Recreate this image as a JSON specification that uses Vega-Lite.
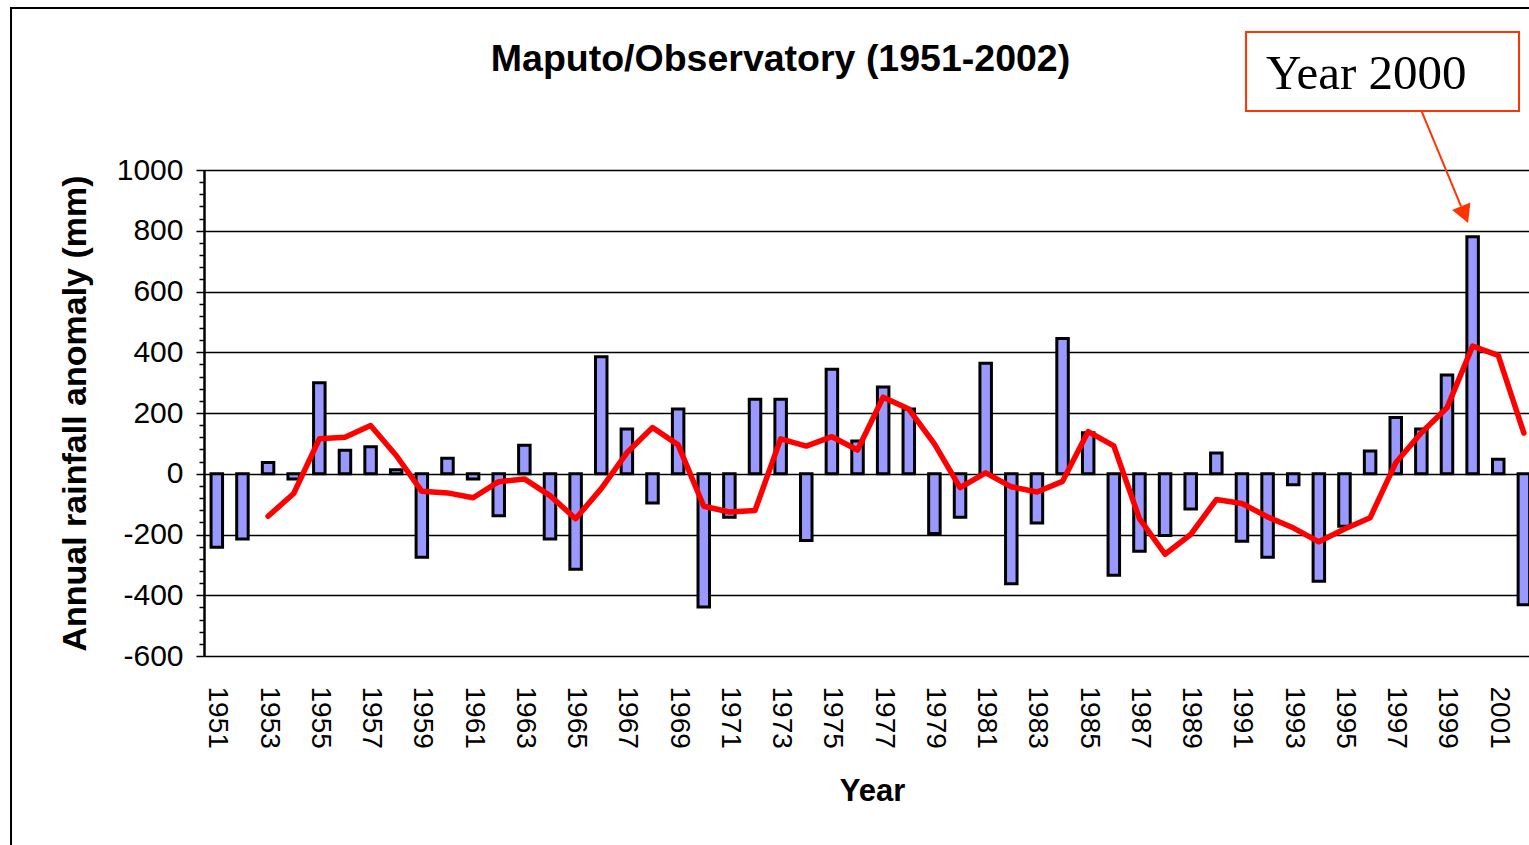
{
  "$schema": "https://vega.github.io/schema/vega-lite/v6.json",
  "width": 1325,
  "height": 486,
  "autosize": {"type": "none"},
  "padding": {"left": 204, "top": 170, "right": 0, "bottom": 189},
  "background": "white",
  "config": {"view": {"stroke": null}, "font": "Liberation Sans"},
  "title": {"text": "Maputo/Observatory (1951-2002)", "fontSize": 37.5, "fontWeight": "bold", "font": "Liberation Sans", "color": "black", "anchor": "middle", "frame": "group", "baseline": "alphabetic", "offset": -101, "dx": -86},
  "resolve": {"axis": {"x": "independent", "y": "independent"}},
  "datasets": {
    "bars": [
      {"year": 1951, "anomaly": -242}, {"year": 1952, "anomaly": -215}, {"year": 1953, "anomaly": 37}, {"year": 1954, "anomaly": -17},
      {"year": 1955, "anomaly": 300}, {"year": 1956, "anomaly": 77}, {"year": 1957, "anomaly": 89}, {"year": 1958, "anomaly": 13},
      {"year": 1959, "anomaly": -275}, {"year": 1960, "anomaly": 51}, {"year": 1961, "anomaly": -17}, {"year": 1962, "anomaly": -138},
      {"year": 1963, "anomaly": 94}, {"year": 1964, "anomaly": -215}, {"year": 1965, "anomaly": -314}, {"year": 1966, "anomaly": 385},
      {"year": 1967, "anomaly": 147}, {"year": 1968, "anomaly": -96}, {"year": 1969, "anomaly": 213}, {"year": 1970, "anomaly": -439},
      {"year": 1971, "anomaly": -143}, {"year": 1972, "anomaly": 245}, {"year": 1973, "anomaly": 245}, {"year": 1974, "anomaly": -220},
      {"year": 1975, "anomaly": 344}, {"year": 1976, "anomaly": 108}, {"year": 1977, "anomaly": 286}, {"year": 1978, "anomaly": 213},
      {"year": 1979, "anomaly": -197}, {"year": 1980, "anomaly": -143}, {"year": 1981, "anomaly": 364}, {"year": 1982, "anomaly": -362},
      {"year": 1983, "anomaly": -162}, {"year": 1984, "anomaly": 445}, {"year": 1985, "anomaly": 135}, {"year": 1986, "anomaly": -334},
      {"year": 1987, "anomaly": -255}, {"year": 1988, "anomaly": -203}, {"year": 1989, "anomaly": -116}, {"year": 1990, "anomaly": 68},
      {"year": 1991, "anomaly": -222}, {"year": 1992, "anomaly": -275}, {"year": 1993, "anomaly": -36}, {"year": 1994, "anomaly": -354},
      {"year": 1995, "anomaly": -173}, {"year": 1996, "anomaly": 75}, {"year": 1997, "anomaly": 185}, {"year": 1998, "anomaly": 147},
      {"year": 1999, "anomaly": 325}, {"year": 2000, "anomaly": 780}, {"year": 2001, "anomaly": 48}, {"year": 2002, "anomaly": -431}
    ],
    "avg": [
      {"year": 1953, "mean": -140}, {"year": 1954, "mean": -65}, {"year": 1955, "mean": 115}, {"year": 1956, "mean": 120},
      {"year": 1957, "mean": 159}, {"year": 1958, "mean": 60}, {"year": 1959, "mean": -58}, {"year": 1960, "mean": -63},
      {"year": 1961, "mean": -79}, {"year": 1962, "mean": -26}, {"year": 1963, "mean": -17}, {"year": 1964, "mean": -72},
      {"year": 1965, "mean": -148}, {"year": 1966, "mean": -49}, {"year": 1967, "mean": 69}, {"year": 1968, "mean": 152},
      {"year": 1969, "mean": 95}, {"year": 1970, "mean": -107}, {"year": 1971, "mean": -126}, {"year": 1972, "mean": -121},
      {"year": 1973, "mean": 115}, {"year": 1974, "mean": 91}, {"year": 1975, "mean": 122}, {"year": 1976, "mean": 78},
      {"year": 1977, "mean": 252}, {"year": 1978, "mean": 213}, {"year": 1979, "mean": 98}, {"year": 1980, "mean": -46},
      {"year": 1981, "mean": 3}, {"year": 1982, "mean": -43}, {"year": 1983, "mean": -60}, {"year": 1984, "mean": -25},
      {"year": 1985, "mean": 139}, {"year": 1986, "mean": 92}, {"year": 1987, "mean": -148}, {"year": 1988, "mean": -265},
      {"year": 1989, "mean": -200}, {"year": 1990, "mean": -85}, {"year": 1991, "mean": -98}, {"year": 1992, "mean": -142},
      {"year": 1993, "mean": -178}, {"year": 1994, "mean": -224}, {"year": 1995, "mean": -182}, {"year": 1996, "mean": -145},
      {"year": 1997, "mean": 36}, {"year": 1998, "mean": 135}, {"year": 1999, "mean": 217}, {"year": 2000, "mean": 420},
      {"year": 2001, "mean": 390}, {"year": 2002, "mean": 134}
    ],
    "frame": [{"x1": 1942.97, "x2": 2010, "y1": 1533.3, "y2": -2000}],
    "box": [{"x1": 1991.16, "x2": 2001.81, "y1": 1454, "y2": 1194, "tx": 1991.94, "ty": 1267, "label": "Year 2000"}],
    "arrow": [{"x1": 1998.02, "y1": 1191, "x2": 1999.55, "y2": 880}],
    "head": [{"x": 1999.69, "y": 853}]
  },
  "layer": [
    {
      "data": {"name": "bars"},
      "mark": {"type": "bar", "orient": "vertical", "width": 11.5, "fill": "#9999FF", "stroke": "black", "strokeWidth": 3},
      "encoding": {
        "x": {
          "field": "year", "type": "quantitative",
          "scale": {"domain": [1950.5, 2002.2], "nice": false, "zero": false, "padding": 0},
          "axis": {
            "title": "Year",
            "orient": "bottom",
            "values": [1951, 1953, 1955, 1957, 1959, 1961, 1963, 1965, 1967, 1969, 1971, 1973, 1975, 1977, 1979, 1981, 1983, 1985, 1987, 1989, 1991, 1993, 1995, 1997, 1999, 2001],
            "labelExpr": "'' + datum.value",
            "labelAngle": 90,
            "labelFontSize": 28,
            "labelColor": "black",
            "labelPadding": 30,
            "labelOverlap": false,
            "ticks": false,
            "domain": false,
            "grid": false,
            "titleFontSize": 31,
            "titleFontWeight": "bold",
            "titleColor": "black",
            "titleBaseline": "alphabetic",
            "titleY": 144,
            "titleX": 668
          }
        },
        "y": {
          "field": "anomaly", "type": "quantitative",
          "scale": {"domain": [-600, 1000], "nice": false, "zero": false, "padding": 0},
          "axis": {
            "title": "Annual rainfall anomaly (mm)",
            "orient": "left",
            "values": [-600, -400, -200, 0, 200, 400, 600, 800, 1000],
            "labelExpr": "'' + datum.value",
            "labelFontSize": 30,
            "labelColor": "black",
            "labelPadding": 13,
            "labelOverlap": false,
            "tickColor": "black",
            "tickWidth": 1.5,
            "tickSize": 8,
            "domainColor": "black",
            "domainWidth": 2.5,
            "grid": true,
            "gridColor": "black",
            "gridWidth": 1.4,
            "titleFontSize": 34,
            "titleFontWeight": "bold",
            "titleColor": "black",
            "titleAngle": 270,
            "titleBaseline": "alphabetic",
            "titleX": -119
          }
        },
        "y2": {"datum": 0}
      }
    },
    {
      "data": {"name": "frame"},
      "mark": {"type": "rect", "fill": "transparent", "stroke": "black", "strokeWidth": 2},
      "encoding": {
        "x": {"field": "x1", "type": "quantitative", "scale": {"domain": [1950.5, 2002.2], "nice": false, "zero": false, "padding": 0}, "axis": null},
        "x2": {"field": "x2"},
        "y": {"field": "y1", "type": "quantitative", "scale": {"domain": [-600, 1000], "nice": false, "zero": false, "padding": 0}, "axis": null},
        "y2": {"field": "y2"}
      }
    },
    {
      "data": {"name": "avg"},
      "mark": {"type": "line", "color": "#FF0000", "strokeWidth": 5.5, "strokeCap": "round", "strokeJoin": "round"},
      "encoding": {
        "x": {"field": "year", "type": "quantitative", "scale": {"domain": [1950.5, 2002.2], "nice": false, "zero": false, "padding": 0}, "axis": null},
        "y": {
          "field": "mean", "type": "quantitative",
          "scale": {"domain": [-600, 1000], "nice": false, "zero": false, "padding": 0},
          "axis": {
            "orient": "left",
            "title": null,
            "values": [-560, -520, -480, -440, -360, -320, -280, -240, -160, -120, -80, -40, 40, 80, 120, 160, 240, 280, 320, 360, 440, 480, 520, 560, 640, 680, 720, 760, 840, 880, 920, 960],
            "labels": false,
            "grid": false,
            "domain": false,
            "tickColor": "black",
            "tickWidth": 1.5,
            "tickSize": 5
          }
        }
      }
    },
    {
      "data": {"name": "box"},
      "mark": {"type": "rect", "fill": "white", "stroke": "#FF3300", "strokeWidth": 2},
      "encoding": {
        "x": {"field": "x1", "type": "quantitative", "scale": {"domain": [1950.5, 2002.2], "nice": false, "zero": false, "padding": 0}, "axis": null},
        "x2": {"field": "x2"},
        "y": {"field": "y1", "type": "quantitative", "scale": {"domain": [-600, 1000], "nice": false, "zero": false, "padding": 0}, "axis": null},
        "y2": {"field": "y2"}
      }
    },
    {
      "data": {"name": "box"},
      "mark": {"type": "text", "align": "left", "baseline": "alphabetic", "font": "Liberation Serif", "fontSize": 49, "color": "black"},
      "encoding": {
        "x": {"field": "tx", "type": "quantitative", "scale": {"domain": [1950.5, 2002.2], "nice": false, "zero": false, "padding": 0}, "axis": null},
        "y": {"field": "ty", "type": "quantitative", "scale": {"domain": [-600, 1000], "nice": false, "zero": false, "padding": 0}, "axis": null},
        "text": {"field": "label"}
      }
    },
    {
      "data": {"name": "arrow"},
      "mark": {"type": "rule", "color": "#FF3300", "strokeWidth": 2},
      "encoding": {
        "x": {"field": "x1", "type": "quantitative", "scale": {"domain": [1950.5, 2002.2], "nice": false, "zero": false, "padding": 0}, "axis": null},
        "x2": {"field": "x2"},
        "y": {"field": "y1", "type": "quantitative", "scale": {"domain": [-600, 1000], "nice": false, "zero": false, "padding": 0}, "axis": null},
        "y2": {"field": "y2"}
      }
    },
    {
      "data": {"name": "head"},
      "mark": {"type": "point", "shape": "M-1.1,-1L1.1,-1L0,1Z", "size": 324, "angle": 337.5, "filled": true, "color": "#FF3300", "opacity": 1},
      "encoding": {
        "x": {"field": "x", "type": "quantitative", "scale": {"domain": [1950.5, 2002.2], "nice": false, "zero": false, "padding": 0}, "axis": null},
        "y": {"field": "y", "type": "quantitative", "scale": {"domain": [-600, 1000], "nice": false, "zero": false, "padding": 0}, "axis": null}
      }
    }
  ]
}
